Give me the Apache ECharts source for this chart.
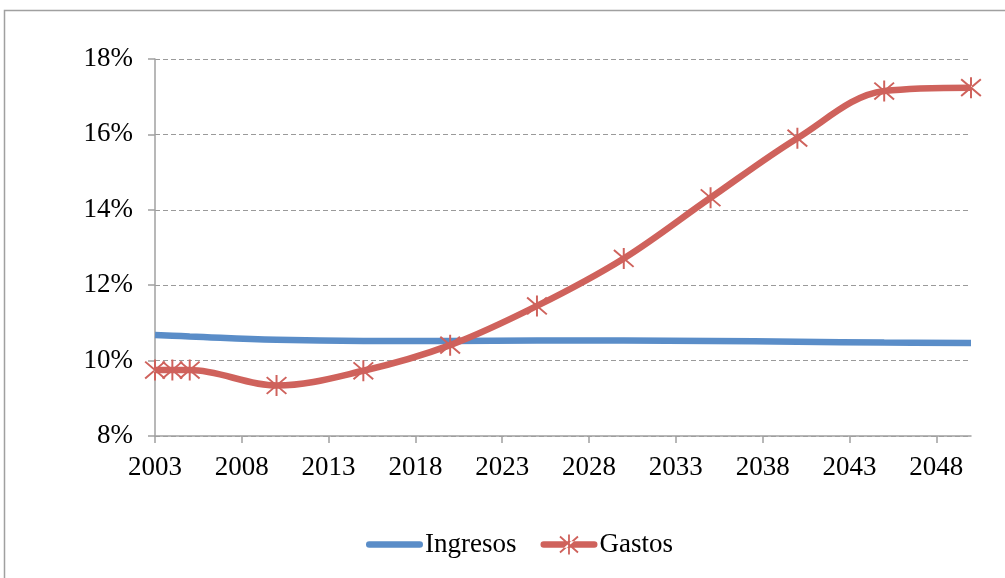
<!DOCTYPE html>
<html>
<head>
<meta charset="utf-8">
<script src="https://cdn.jsdelivr.net/npm/echarts@6/dist/echarts.min.js"></script>
<style>
  html, body { margin: 0; padding: 0; background: #fff; }
  #chart { width: 1005px; height: 578px; }
</style>
</head>
<body>
<div id="chart"></div>
<script>
// Years at which both series are given
const years = [2003, 2004, 2005, 2010, 2015, 2020, 2025, 2030, 2035, 2040, 2045, 2050];
// Share of GDP, in percent
const ingresos = [10.68, 10.66, 10.64, 10.55, 10.52, 10.52, 10.53, 10.53, 10.52, 10.50, 10.48, 10.47];
const gastos   = [9.75, 9.75, 9.75, 9.34, 9.73, 10.41, 11.45, 12.71, 14.32, 15.90, 17.15, 17.24];
// Tick labels on the year axis
const yearTicks = [2003, 2008, 2013, 2018, 2023, 2028, 2033, 2038, 2043, 2048];
const seriesNames = ['Ingresos', 'Gastos'];

const BLUE = '#5a8dc8';
const RED = '#cf625c';
const FONT = '"Liberation Serif", "Times New Roman", serif';

// Asterisk marker: one vertical and two diagonal bars, in a 20x20 box
const starParts = (dx, dy) => [
  [[9.1, 0], [10.9, 0], [10.9, 20], [9.1, 20]],
  [[1.6, 1.33], [19.6, 17.33], [18.4, 18.67], [0.4, 2.67]],
  [[18.4, 1.33], [0.4, 17.33], [1.6, 18.67], [19.6, 2.67]]
].map(poly => 'M' + poly.map(p => (p[0] + dx).toFixed(2) + ' ' + (p[1] + dy).toFixed(2)).join('L') + 'Z').join('');

const asterisk = 'path://' + starParts(0, 0);

// Legend keys: a rounded bar in a 57x20 box (tiny corner dots fix the box size)
const corners = 'M0 0h0.01v0.01h-0.01ZM56.99 19.99h0.01v0.01h-0.01Z';
const bar = 'M3.25 6.75H53.75A3.25 3.25 0 0 1 53.75 13.25H3.25A3.25 3.25 0 0 1 3.25 6.75Z';
const keyPlain = 'path://' + corners + bar;
const keyStar = 'path://' + corners + bar + starParts(18.5, 0);

const pairs = vals => years.map((y, i) => [y, vals[i]]);

const chart = echarts.init(document.getElementById('chart'), null, { renderer: 'canvas' });
chart.setOption({
  animation: false,
  backgroundColor: '#fff',
  graphic: [{
    type: 'rect',
    shape: { x: 4.5, y: 10.5, width: 1200, height: 800 },
    style: { fill: 'none', stroke: '#a0a0a0', lineWidth: 1.5 },
    silent: true, z: -10
  }],
  grid: { left: 155, right: 34, top: 59, bottom: 142 },
  legend: {
    data: [
      { name: seriesNames[0], icon: keyPlain, itemStyle: { color: BLUE } },
      { name: seriesNames[1], icon: keyStar, itemStyle: { color: RED } }
    ],
    bottom: 15,
    left: 361,
    itemWidth: 57,
    itemHeight: 20,
    itemGap: 24,
    textStyle: { fontFamily: FONT, fontSize: 27, color: '#000', padding: [0, 0, 0, -3] }
  },
  xAxis: {
    type: 'value',
    min: 2003,
    max: 2050,
    axisLine: { lineStyle: { color: '#a0a0a0', width: 1.5 } },
    axisTick: { customValues: yearTicks, length: 7, lineStyle: { color: '#a0a0a0', width: 1.5 } },
    axisLabel: {
      customValues: yearTicks,
      fontFamily: FONT, fontSize: 27, color: '#000', margin: 18,
      formatter: v => String(v)
    },
    splitLine: { show: false }
  },
  yAxis: {
    type: 'value',
    min: 8,
    max: 18,
    interval: 2,
    axisLine: { show: true, lineStyle: { color: '#a0a0a0', width: 1.5 } },
    axisTick: { show: true, length: 7, lineStyle: { color: '#a0a0a0', width: 1.5 } },
    axisLabel: { fontFamily: FONT, fontSize: 27, color: '#000', margin: 22, formatter: '{value}%' },
    splitLine: { lineStyle: { color: '#9a9a9a', width: 1.2, type: [5, 3] } }
  },
  series: [
    {
      name: seriesNames[0],
      type: 'line',
      data: pairs(ingresos),
      smooth: 0.4,
      showSymbol: false,
      symbol: 'none',
      lineStyle: { color: BLUE, width: 6.5 },
      itemStyle: { color: BLUE },
      z: 2
    },
    {
      name: seriesNames[1],
      type: 'line',
      data: pairs(gastos),
      smooth: 0.35,
      symbol: asterisk,
      symbolSize: 21,
      showAllSymbol: true,
      lineStyle: { color: RED, width: 6.5 },
      itemStyle: { color: RED, borderWidth: 0 },
      z: 3
    }
  ]
});
</script>
</body>
</html>
